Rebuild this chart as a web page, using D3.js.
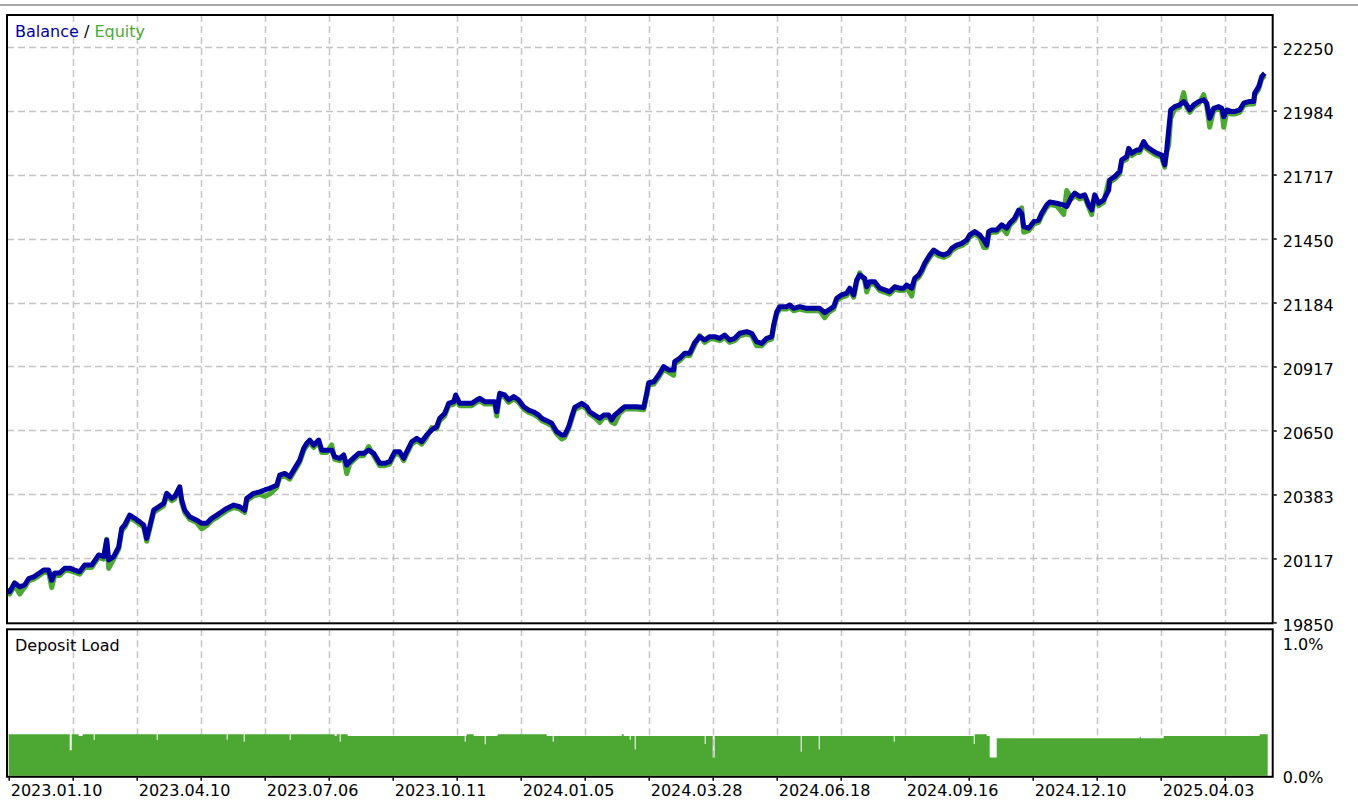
<!DOCTYPE html>
<html><head><meta charset="utf-8">
<script src="https://cdn.jsdelivr.net/npm/d3@7"></script>
<style>
body{margin:0;background:#fff;}
svg{display:block;}
text{font-family:"DejaVu Sans",sans-serif;font-size:16px;}
</style>
</head><body>
<svg id="chart" width="1358" height="800"></svg>
<script>
// ---------- DATA ----------
const dealNo = [
0,1,6,11,16,20,25,30,35,40,
43,46,51,56,61,66,71,76,83,90,
95,98,100,105,110,113,116,121,126,131,
135,138,141,145,150,155,158,163,166,171,
173,176,181,188,193,198,203,208,213,218,
225,231,236,238,245,251,256,261,268,271,
276,281,286,291,295,298,301,305,310,313,
318,323,326,331,335,338,341,346,350,355,
360,365,368,371,376,381,386,391,395,398,
403,408,413,418,423,428,431,436,440,445,
447,451,456,463,468,471,476,481,486,488,
491,496,500,505,510,515,520,525,530,533,
538,543,548,553,556,560,563,566,573,578,
581,586,591,595,600,603,606,611,616,621,
628,635,638,640,645,650,655,660,665,666,
671,676,681,686,691,696,701,706,711,716,
721,726,731,738,743,748,753,758,763,765,
768,771,778,781,785,791,798,805,811,816,
820,825,828,833,838,841,845,848,851,856,
858,861,866,871,876,881,886,891,895,898,
903,906,910,913,916,921,925,930,935,940,
943,948,953,958,961,966,971,975,978,980,
983,988,993,998,1001,1006,1010,1013,1015,1020,
1025,1030,1033,1038,1041,1048,1055,1058,1063,1066,
1071,1076,1080,1083,1086,1090,1095,1100,1101,1106,
1111,1113,1118,1120,1123,1128,1131,1135,1138,1143,
1148,1153,1156,1158,1160,1162,1166,1171,1175,1178,
1181,1185,1190,1195,1198,1201,1205,1210,1213,1215,
1218,1223,1226,1231,1235,1240,1245,1246,1250,1253,
1256];

const balance = [
19993,19978,20015,19998,20006,20033,20040,20054,20068,20068,
20026,20056,20056,20076,20076,20068,20061,20089,20089,20131,
20124,20193,20110,20124,20165,20242,20256,20297,20284,20269,
20256,20200,20249,20318,20332,20346,20388,20367,20374,20415,
20360,20318,20290,20276,20263,20263,20284,20297,20311,20325,
20339,20332,20318,20367,20388,20394,20402,20409,20422,20464,
20471,20457,20492,20527,20576,20596,20610,20589,20610,20568,
20568,20568,20540,20534,20548,20506,20520,20540,20555,20555,
20568,20555,20534,20513,20513,20520,20561,20561,20534,20561,
20603,20617,20603,20631,20652,20666,20701,20721,20763,20770,
20798,20763,20763,20763,20777,20784,20770,20770,20770,20728,
20805,20798,20777,20791,20777,20749,20735,20727,20714,20701,
20691,20680,20645,20631,20631,20666,20707,20746,20763,20749,
20728,20714,20701,20714,20714,20694,20714,20732,20749,20749,
20749,20746,20805,20849,20853,20881,20916,20902,20902,20937,
20951,20972,20972,21016,21041,21027,21041,21041,21034,21048,
21027,21034,21055,21062,21055,21020,21013,21034,21041,21090,
21144,21166,21166,21173,21159,21166,21159,21159,21159,21141,
21152,21166,21201,21215,21222,21243,21215,21277,21298,21284,
21249,21270,21270,21243,21236,21228,21249,21243,21243,21256,
21243,21284,21298,21319,21347,21381,21402,21388,21381,21391,
21409,21423,21430,21444,21465,21479,21465,21444,21423,21479,
21486,21486,21507,21493,21514,21535,21569,21555,21500,21493,
21520,21527,21555,21590,21602,21597,21590,21583,21625,21639,
21625,21632,21590,21569,21632,21597,21611,21652,21694,21708,
21729,21778,21791,21826,21806,21819,21819,21854,21833,21819,
21806,21798,21757,21819,21903,21986,22000,22007,22021,22007,
21986,22007,22021,22028,22014,21951,21993,22000,21993,21958,
21986,21979,21979,21986,22014,22021,22021,22056,22083,22125,
22139];

const equity = [
19983,19968,20005,19968,19996,20023,20030,20044,20058,20058,
19995,20046,20046,20066,20066,20058,20051,20079,20079,20121,
20114,20197,20075,20114,20155,20232,20246,20287,20274,20259,
20246,20188,20239,20308,20322,20336,20378,20357,20364,20412,
20350,20308,20280,20266,20240,20253,20274,20287,20301,20315,
20329,20322,20308,20357,20378,20384,20375,20385,20412,20454,
20461,20447,20482,20517,20566,20586,20600,20579,20600,20558,
20558,20590,20530,20524,20538,20470,20510,20530,20545,20545,
20583,20545,20524,20503,20503,20510,20551,20551,20524,20551,
20593,20607,20593,20621,20662,20656,20691,20711,20753,20760,
20788,20753,20753,20753,20767,20774,20760,20760,20760,20710,
20795,20788,20767,20781,20767,20739,20725,20717,20704,20691,
20681,20670,20635,20614,20621,20656,20697,20736,20753,20739,
20718,20704,20683,20704,20704,20684,20678,20722,20739,20739,
20739,20736,20795,20839,20843,20871,20906,20892,20880,20927,
20941,20962,20962,21006,21045,21017,21031,21031,21024,21038,
21017,21024,21045,21052,21045,21003,21003,21024,21031,21080,
21134,21156,21156,21163,21149,21156,21149,21149,21149,21120,
21142,21156,21191,21205,21212,21233,21205,21267,21307,21274,
21227,21260,21260,21233,21226,21218,21239,21233,21233,21246,
21210,21274,21288,21309,21337,21371,21392,21378,21371,21381,
21399,21413,21420,21434,21455,21469,21455,21413,21413,21469,
21476,21476,21497,21470,21504,21525,21559,21578,21476,21483,
21510,21517,21545,21580,21592,21587,21550,21650,21615,21629,
21615,21622,21580,21550,21622,21587,21601,21690,21684,21698,
21719,21768,21781,21816,21796,21809,21809,21844,21823,21809,
21796,21788,21747,21809,21840,21950,21990,21997,22058,21997,
21976,21997,22011,22050,22004,21914,21983,21990,21983,21914,
21976,21969,21969,21976,22004,22011,22011,22046,22073,22115,
22129];

// Deposit load (%) as steps starting at the given deal number
const loadDeal = [0,61,63,70,74,85,86,148,149,218,219,235,236,281,282,326,328,331,332,339,
  456,457,458,465,476,477,489,538,544,545,613,615,621,622,626,627,696,697,704,706,
  792,793,810,811,885,886,965,966,978,981,988,1131,1132,1155,1251,1259];
const loadPct = [0.288,0.18,0.288,0.275,0.288,0.248,0.288,0.248,0.288,0.25,0.288,0.236,0.288,0.248,0.288,0.275,0.288,0.236,0.288,0.275,
  0.236,0.275,0.288,0.275,0.22,0.275,0.288,0.275,0.236,0.275,0.288,0.275,0.25,0.275,0.185,0.275,0.221,0.275,0.131,0.275,
  0.169,0.275,0.185,0.275,0.236,0.275,0.221,0.288,0.275,0.131,0.26,0.27,0.26,0.275,0.288,0.288];

const yTickValues = [19850,20116.67,20383.33,20650,20916.67,21183.33,21450,21716.67,21983.33,22250];
const yTickLabels = ["19850","20117","20383","20650","20917","21184","21450","21717","21984","22250"];
const xTickLabels = ["2023.01.10","2023.04.10","2023.07.06","2023.10.11","2024.01.05",
                     "2024.03.28","2024.06.18","2024.09.16","2024.12.10","2025.04.03"];
const loadTickValues = [0,1];
const loadTickLabels = ["0.0%","1.0%"];

// ---------- LAYOUT ----------
const BLUE = "#0000a0", GREEN = "#4da833", GRID = "#c4c4c4";
const left = 7, right = 1272.7;
const topY = 15, topBottom = 623.3;
const botTop = 629.3, botBottom = 776.8;

const svg = d3.select("#chart");
svg.append("rect").attr("width",1358).attr("height",800).attr("fill","#fff");
svg.append("rect").attr("x",0).attr("y",4).attr("width",1358).attr("height",2).attr("fill","#a8a8a8");

const x = d3.scaleLinear().domain([0,1264]).range([8.7,1272.7]);
const y = d3.scaleLinear().domain([19850,22250]).range([622.4,46.6]);
const ly = d3.scaleLinear().domain([0,1]).range([botBottom,628.7]);

const gridDeals = d3.range(64,1264,64);

// clip paths
const defs = svg.append("defs");
defs.append("clipPath").attr("id","clipTop").append("rect")
  .attr("x",left+1).attr("y",topY+1).attr("width",right-left-2).attr("height",topBottom-topY-2);
defs.append("clipPath").attr("id","clipBot").append("rect")
  .attr("x",left+1).attr("y",botTop+1).attr("width",right-left-2).attr("height",botBottom-botTop-2);

// --- top panel grid
const gTop = svg.append("g").attr("clip-path","url(#clipTop)");
gTop.selectAll("line.hg").data(yTickValues.slice(1)).join("line")
  .attr("x1",left).attr("x2",right)
  .attr("y1",d=>Math.round(y(d))+0.5).attr("y2",d=>Math.round(y(d))+0.5)
  .attr("stroke",GRID).attr("stroke-width",1.5).attr("stroke-dasharray","7,4");
gTop.selectAll("line.vg").data(gridDeals).join("line")
  .attr("x1",d=>Math.round(x(d))+0.5).attr("x2",d=>Math.round(x(d))+0.5)
  .attr("y1",topY).attr("y2",topBottom)
  .attr("stroke",GRID).attr("stroke-width",1.5).attr("stroke-dasharray","7,4");

const pts = dealNo.map((d,i)=>({t:d,b:balance[i],e:equity[i]}));
const lineE = d3.line().x(d=>x(d.t)).y(d=>y(d.e));
const lineB = d3.line().x(d=>x(d.t)).y(d=>y(d.b));
gTop.append("path").datum(pts).attr("d",lineE).attr("fill","none")
  .attr("stroke",GREEN).attr("stroke-width",5).attr("stroke-linejoin","round");
gTop.append("path").datum(pts).attr("d",lineB).attr("fill","none")
  .attr("stroke",BLUE).attr("stroke-width",5).attr("stroke-linejoin","round");

// --- bottom panel
const gBot = svg.append("g").attr("clip-path","url(#clipBot)");
gBot.selectAll("line.vg").data(gridDeals).join("line")
  .attr("x1",d=>Math.round(x(d))+0.5).attr("x2",d=>Math.round(x(d))+0.5)
  .attr("y1",botTop).attr("y2",botBottom)
  .attr("stroke",GRID).attr("stroke-width",1.5).attr("stroke-dasharray","7,4");
const loadPts = loadDeal.map((d,i)=>({t:d,v:loadPct[i]}));
gBot.append("path").datum(loadPts)
  .attr("d",d3.area().x(d=>x(d.t)).y0(ly(0)).y1(d=>ly(d.v)).curve(d3.curveStepAfter))
  .attr("fill",GREEN);

// borders
svg.append("rect").attr("x",left).attr("y",topY).attr("width",right-left).attr("height",topBottom-topY)
  .attr("fill","none").attr("stroke","#000").attr("stroke-width",2);
svg.append("rect").attr("x",left).attr("y",botTop).attr("width",right-left).attr("height",botBottom-botTop)
  .attr("fill","none").attr("stroke","#000").attr("stroke-width",2);

// y axis (top panel)
const yAxis = svg.append("g").attr("transform",`translate(${right+1},0)`)
  .call(d3.axisRight(y).tickValues(yTickValues).tickFormat((d,i)=>yTickLabels[i]).tickSize(3).tickPadding(6));
yAxis.select(".domain").remove();
yAxis.selectAll("line").attr("stroke","#000").attr("stroke-width",1.5);
yAxis.selectAll("text").attr("dy","0.48em").attr("fill","#000")
  .style("font-family","'DejaVu Sans',sans-serif").style("font-size","16px");

// load axis labels
const lAxis = svg.append("g").attr("transform",`translate(${right+1},0)`)
  .call(d3.axisRight(ly).tickValues(loadTickValues).tickFormat((d,i)=>loadTickLabels[i]).tickSize(0).tickPadding(9));
lAxis.select(".domain").remove();
lAxis.selectAll("text").attr("fill","#000")
  .attr("dy",(d)=> d===1 ? "1.28em" : "0.37em")
  .style("font-family","'DejaVu Sans',sans-serif").style("font-size","16px");

// x axis
const xAxis = svg.append("g").attr("transform",`translate(0,${botBottom+1})`)
  .call(d3.axisBottom(x).tickValues(d3.range(0,1264,64))
    .tickFormat((d,i)=> i%2===0 ? xTickLabels[i/2] : "").tickSize(3));
xAxis.select(".domain").remove();
xAxis.selectAll("line").attr("stroke","#000").attr("stroke-width",1.5);
xAxis.selectAll("text").attr("text-anchor","start").attr("x",1.5).attr("y",18.5).attr("dy",0)
  .attr("fill","#000").style("font-family","'DejaVu Sans',sans-serif").style("font-size","16px");

// legends
const leg = svg.append("text").attr("x",15).attr("y",37);
leg.append("tspan").attr("fill",BLUE).text("Balance");
leg.append("tspan").attr("fill","#000").text(" / ");
leg.append("tspan").attr("fill",GREEN).text("Equity");
svg.append("text").attr("x",15).attr("y",651).attr("fill","#000").text("Deposit Load");
</script>
</body></html>
